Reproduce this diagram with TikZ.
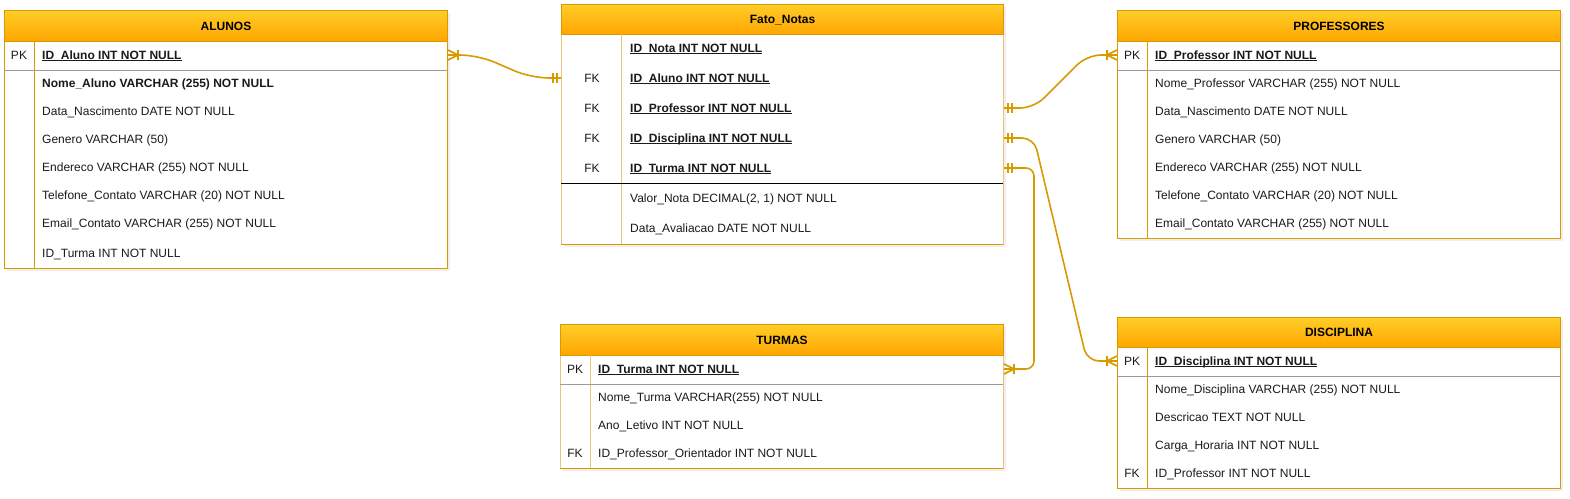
\documentclass[tikz,border=0pt]{standalone}
\usepackage{fontspec}
\setmainfont{Liberation Sans}
\usetikzlibrary{shadows,calc}
\definecolor{ord}{HTML}{D79B00}
\definecolor{ordl}{HTML}{E9C576}
\definecolor{htop}{HTML}{FFCD28}
\definecolor{hbot}{HTML}{FFA500}
\definecolor{sepgray}{HTML}{9A9A9A}
\definecolor{txt}{HTML}{1A1A1A}
\newcommand\undl[1]{\setbox0\hbox{#1}\rlap{\rule[-1.9pt]{\wd0}{0.9pt}}\box0}
\tikzset{
  pics/mone/.style={code={\draw[erline] (4,-5) -- (4,5) (8,-5) -- (8,5);}},
  pics/omany/.style={code={\draw[erline] (0,-5) -- (10,0) -- (0,5) (10,-5) -- (10,5);}},
}
\begin{document}
\begin{tikzpicture}[x=1pt,y=-1pt,
  font=\fontsize{12}{14}\selectfont,
  tbl/.style={draw=ord, fill=white, line width=1pt, anchor=north west, inner sep=0,
    drop shadow={opacity=0.13, shadow xshift=2.5pt, shadow yshift=-2.5pt}},
  tbll/.style={tbl, draw=ordl},
  hdr/.style={draw=ord, top color=htop, bottom color=hbot, line width=1pt, anchor=north west,
    inner sep=0, text height=10pt, text depth=1.4pt, font=\fontsize{12}{14}\selectfont\bfseries},
  fld/.style={anchor=west, inner sep=0, text height=10pt, text depth=1.4pt, text=txt},
  key/.style={anchor=center, inner sep=0, text height=10pt, text depth=1.4pt, text=txt},
  pkf/.style={fld, font=\fontsize{12}{14}\selectfont\bfseries},
  div/.style={draw=ord, line width=1pt},
  divl/.style={draw=ordl, line width=1pt},
  sep/.style={draw=sepgray, line width=0.8pt},
  erline/.style={draw=ord, line width=1.6pt, line cap=butt, line join=round},
]
\useasboundingbox (0,0) rectangle (1570,498);

% ---------------- ALUNOS
\node[tbl, minimum width=443pt, minimum height=258pt] (alb) at (4,10) {};
\node[hdr, minimum width=443pt, minimum height=31pt] (alh) at (4,10) {ALUNOS};
\draw[div] (34,41) -- (34,268);
\draw[sep] (4,70) -- (447,70);
\node[key] (alk) at (19,55) {PK};
\node[pkf] (alpk) at (42,55) {\undl{ID\_Aluno INT NOT NULL}};
\node[pkf] (al1) at (42,83) {Nome\_Aluno VARCHAR (255) NOT NULL};
\node[fld] (al2) at (42,111) {Data\_Nascimento DATE NOT NULL};
\node[fld] (al3) at (42,139) {Genero VARCHAR (50)};
\node[fld] (al4) at (42,167) {Endereco VARCHAR (255) NOT NULL};
\node[fld] (al5) at (42,195) {Telefone\_Contato VARCHAR (20) NOT NULL};
\node[fld] (al6) at (42,223) {Email\_Contato VARCHAR (255) NOT NULL};
\node[fld] (al7) at (42,253) {ID\_Turma INT NOT NULL};

% ---------------- Fato_Notas
\node[tbll, minimum width=442pt, minimum height=240pt] (fnb) at (561,4) {};
\draw[div] (561,244) -- (1003,244);
\node[hdr, minimum width=442pt, minimum height=30pt] (fnh) at (561,4) {Fato\_Notas};
\draw[divl] (621,34) -- (621,244);
\draw[black, line width=1pt] (561,183.5) -- (1003,183.5);
\node[pkf] (fn0) at (630,48) {\undl{ID\_Nota INT NOT NULL}};
\node[key] (fk1) at (592,78) {FK};
\node[pkf] (fn1) at (630,78) {\undl{ID\_Aluno INT NOT NULL}};
\node[key] (fk2) at (592,108) {FK};
\node[pkf] (fn2) at (630,108) {\undl{ID\_Professor INT NOT NULL}};
\node[key] (fk3) at (592,138) {FK};
\node[pkf] (fn3) at (630,138) {\undl{ID\_Disciplina INT NOT NULL}};
\node[key] (fk4) at (592,168) {FK};
\node[pkf] (fn4) at (630,168) {\undl{ID\_Turma INT NOT NULL}};
\node[fld] (fn5) at (630,198) {Valor\_Nota DECIMAL(2, 1) NOT NULL};
\node[fld] (fn6) at (630,228) {Data\_Avaliacao DATE NOT NULL};

% ---------------- PROFESSORES
\node[tbl, minimum width=443pt, minimum height=228pt] (prb) at (1117,10) {};
\node[hdr, minimum width=443pt, minimum height=31pt] (prh) at (1117,10) {PROFESSORES};
\draw[div] (1147,41) -- (1147,238);
\draw[sep] (1117,70) -- (1560,70);
\node[key] (prk) at (1132,55) {PK};
\node[pkf] (prpk) at (1155,55) {\undl{ID\_Professor INT NOT NULL}};
\node[fld] (pr1) at (1155,83) {Nome\_Professor VARCHAR (255) NOT NULL};
\node[fld] (pr2) at (1155,111) {Data\_Nascimento DATE NOT NULL};
\node[fld] (pr3) at (1155,139) {Genero VARCHAR (50)};
\node[fld] (pr4) at (1155,167) {Endereco VARCHAR (255) NOT NULL};
\node[fld] (pr5) at (1155,195) {Telefone\_Contato VARCHAR (20) NOT NULL};
\node[fld] (pr6) at (1155,223) {Email\_Contato VARCHAR (255) NOT NULL};

% ---------------- TURMAS
\node[tbll, minimum width=443pt, minimum height=144pt] (tub) at (560,324) {};
\draw[div] (560,468) -- (1003,468);
\node[hdr, minimum width=443pt, minimum height=31pt] (tuh) at (560,324) {TURMAS};
\draw[divl] (590,355) -- (590,468);
\draw[sep] (560,384) -- (1003,384);
\node[key] (tuk) at (575,369) {PK};
\node[pkf] (tupk) at (598,369) {\undl{ID\_Turma INT NOT NULL}};
\node[fld] (tu1) at (598,397) {Nome\_Turma VARCHAR(255) NOT NULL};
\node[fld] (tu2) at (598,425) {Ano\_Letivo INT NOT NULL};
\node[key] (tuk3) at (575,453) {FK};
\node[fld] (tu3) at (598,453) {ID\_Professor\_Orientador INT NOT NULL};

% ---------------- DISCIPLINA
\node[tbl, minimum width=443pt, minimum height=171pt] (dib) at (1117,317) {};
\node[hdr, minimum width=443pt, minimum height=30pt] (dih) at (1117,317) {DISCIPLINA};
\draw[div] (1147,347) -- (1147,488);
\draw[sep] (1117,376.5) -- (1560,376.5);
\node[key] (dik) at (1132,361) {PK};
\node[pkf] (dipk) at (1155,361) {\undl{ID\_Disciplina INT NOT NULL}};
\node[fld] (di1) at (1155,389) {Nome\_Disciplina VARCHAR (255) NOT NULL};
\node[fld] (di2) at (1155,417) {Descricao TEXT NOT NULL};
\node[fld] (di3) at (1155,445) {Carga\_Horaria INT NOT NULL};
\node[key] (dik4) at (1132,473) {FK};
\node[fld] (di4) at (1155,473) {ID\_Professor INT NOT NULL};

% ---------------- connectors
\coordinate (c1a) at (alb.east |- alpk);
\coordinate (c1b) at (fnb.west |- fn1);
\draw[erline, rounded corners=18pt] (c1a) -- ++(30,0) -- ($(c1b)+(-30,0)$) -- (c1b);
\pic at (c1a) {omany};
\pic[xscale=-1] at (c1b) {mone};

\coordinate (c2a) at (fnb.east |- fn2);
\coordinate (c2b) at (prb.west |- prpk);
\draw[erline, rounded corners=14pt] (c2a) -- ++(30,0) -- ($(c2b)+(-30,0)$) -- (c2b);
\pic at (c2a) {mone};
\pic[xscale=-1] at (c2b) {omany};

\coordinate (c3a) at (fnb.east |- fn3);
\coordinate (c3b) at (dib.west |- dipk);
\draw[erline, rounded corners=12pt] (c3a) -- ++(30,0) -- ($(c3b)+(-30,0)$) -- (c3b);
\pic at (c3a) {mone};
\pic[xscale=-1] at (c3b) {omany};

\coordinate (c4a) at (fnb.east |- fn4);
\coordinate (c4b) at (tub.east |- tupk);
\draw[erline, rounded corners=8pt] (c4a) -- ++(30,0) -- ($(c4b)+(30,0)$) -- (c4b);
\pic at (c4a) {mone};
\pic at (c4b) {omany};
\end{tikzpicture}
\end{document}
